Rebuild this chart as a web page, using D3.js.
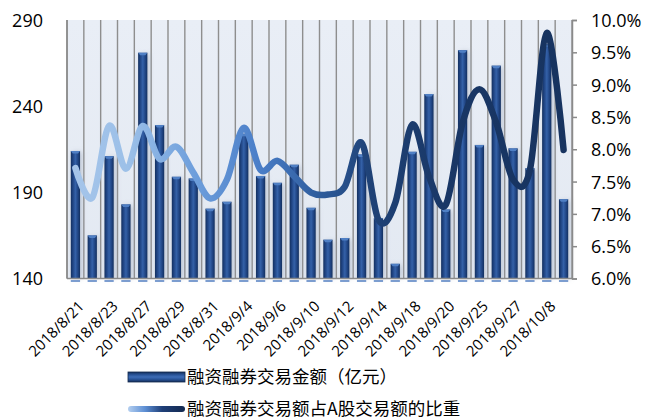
<!DOCTYPE html>
<html><head><meta charset="utf-8">
<script src="https://cdn.jsdelivr.net/npm/d3@7"></script>
<style>
body{margin:0;background:#fff;}
svg{display:block;}
</style></head>
<body>
<svg id="c" width="646" height="419"></svg>
<script>
const dates = ["2018/8/21","2018/8/22","2018/8/23","2018/8/24","2018/8/27","2018/8/28","2018/8/29","2018/8/30","2018/8/31","2018/9/3","2018/9/4","2018/9/5","2018/9/6","2018/9/7","2018/9/10","2018/9/11","2018/9/12","2018/9/13","2018/9/14","2018/9/17","2018/9/18","2018/9/19","2018/9/20","2018/9/21","2018/9/25","2018/9/26","2018/9/27","2018/9/28","2018/10/8","2018/10/9"];
const amount = [214,165,211,183,271,229,199,198,180.5,184.5,224,199.5,195.5,206,181,162.5,163.5,212,175,148.5,213.5,247,180,272.5,217.5,263.5,215.5,204,276,186];
const ratio = [7.71,7.25,8.36,7.70,8.36,7.85,8.04,7.64,7.24,7.53,8.33,7.68,7.82,7.58,7.33,7.30,7.42,8.10,6.91,7.17,8.38,7.58,7.14,8.41,8.93,8.41,7.53,7.68,9.80,7.99];
const leftTicks = [140,190,240,290];
const rightTicks = [6.0,6.5,7.0,7.5,8.0,8.5,9.0,9.5,10.0];
const shownLabels = ["2018/8/21","2018/8/23","2018/8/27","2018/8/29","2018/8/31","2018/9/4","2018/9/6","2018/9/10","2018/9/12","2018/9/14","2018/9/18","2018/9/20","2018/9/25","2018/9/27","2018/10/8"];
const legendNames = ["融资融券交易金额（亿元）","融资融券交易额占A股交易额的比重"];

const svg = d3.select("#c");
const L = 67, R = 572, T = 20, B = 278.5;
const x = d3.scaleBand().domain(dates).range([L, R]).paddingInner(0.45).paddingOuter(0.225);
const yL = d3.scaleLinear().domain([140, 290]).range([B, T]);
const yR = d3.scaleLinear().domain([6, 10]).range([B, T]);
const step = x.step();

const defs = svg.append("defs");
const bg = defs.append("linearGradient").attr("id","bg").attr("x1",0).attr("y1",0).attr("x2",0).attr("y2",1);
bg.append("stop").attr("offset",0).attr("stop-color","#e9eef6");
bg.append("stop").attr("offset",1).attr("stop-color","#e3e9f2");
const barG = defs.append("linearGradient").attr("id","barG").attr("x1",0).attr("y1",0).attr("x2",1).attr("y2",0);
[[0,"#14305e"],[0.2,"#1e4280"],[0.5,"#3461a8"],[0.8,"#1e4280"],[1,"#14305e"]].forEach(s=>barG.append("stop").attr("offset",s[0]).attr("stop-color",s[1]));
const lineG = defs.append("linearGradient").attr("id","lineG").attr("gradientUnits","userSpaceOnUse")
  .attr("x1",L).attr("y1",0).attr("x2",R).attr("y2",0);
[[0,"#a6c5ea"],[0.12,"#9cc0e8"],[0.25,"#6e9fdc"],[0.38,"#4a7ec8"],[0.5,"#2e5c9c"],[0.6,"#1f4277"],[0.75,"#193766"],[1,"#17335f"]].forEach(s=>lineG.append("stop").attr("offset",s[0]).attr("stop-color",s[1]));
const legLine = defs.append("linearGradient").attr("id","legLine").attr("x1",0).attr("y1",0).attr("x2",1).attr("y2",0);
[[0,"#b4cff0"],[0.3,"#5d8fd4"],[0.6,"#1f3f78"],[1,"#13294f"]].forEach(s=>legLine.append("stop").attr("offset",s[0]).attr("stop-color",s[1]));
const legBar = defs.append("linearGradient").attr("id","legBar").attr("x1",0).attr("y1",0).attr("x2",0).attr("y2",1);
[[0,"#14305e"],[0.3,"#2a569c"],[0.5,"#3d6cb5"],[0.7,"#2a569c"],[1,"#14305e"]].forEach(s=>legBar.append("stop").attr("offset",s[0]).attr("stop-color",s[1]));
const sh = defs.append("filter").attr("id","sh").attr("x","-50%").attr("y","-20%").attr("width","200%").attr("height","140%");
sh.append("feGaussianBlur").attr("stdDeviation",2.5);

// plot background
svg.append("rect").attr("x",L).attr("y",T).attr("width",R-L).attr("height",B-T).attr("fill","url(#bg)");

// vertical gridlines at band boundaries
const bounds = d3.range(dates.length + 1).map(i => L + i * step);
svg.append("g").selectAll("line").data(bounds).join("line")
  .attr("x1",d=>d).attr("x2",d=>d).attr("y1",T).attr("y2",B)
  .attr("stroke","#8e8e8e").attr("stroke-width",1.4);

// bar shadows
svg.append("g").attr("filter","url(#sh)").selectAll("rect").data(amount).join("rect")
  .attr("x",(d,i)=>x(dates[i])+2).attr("y",d=>yL(d)+1)
  .attr("width",x.bandwidth()).attr("height",d=>B-yL(d)-1)
  .attr("fill","#9aa6b8").attr("opacity",0.55);

// bars
const bars = svg.append("g");
bars.selectAll("rect.b").data(amount).join("rect").attr("class","b")
  .attr("x",(d,i)=>x(dates[i])).attr("y",d=>yL(d))
  .attr("width",x.bandwidth()).attr("height",d=>B-yL(d))
  .attr("fill","url(#barG)");
bars.selectAll("path.top").data(amount).join("path").attr("class","top")
  .attr("d",(d,i)=>{const x0=x(dates[i]),w=x.bandwidth(),y0=yL(d);return `M${x0},${y0}L${x0+w},${y0}L${x0+w-2},${y0+2.5}L${x0+2},${y0+2.5}Z`;})
  .attr("fill","#4f7fc4");
// reflection below axis
bars.selectAll("rect.r").data(amount).join("rect").attr("class","r")
  .attr("x",(d,i)=>x(dates[i])).attr("y",B+1.5).attr("width",x.bandwidth()).attr("height",2)
  .attr("fill","#5c86c4").attr("opacity",0.8);

// axes lines
svg.append("line").attr("x1",L).attr("x2",R).attr("y1",B).attr("y2",B).attr("stroke","#8a8a8a").attr("stroke-width",1.5);
svg.append("line").attr("x1",L).attr("x2",L).attr("y1",T).attr("y2",B).attr("stroke","#8a8a8a").attr("stroke-width",1.5);

// right axis
const rAxis = svg.append("g").attr("transform",`translate(${R},0)`)
  .call(d3.axisRight(yR).tickValues(rightTicks).tickSize(5).tickPadding(14).tickFormat(d=>d.toFixed(1)+"%"));
rAxis.select(".domain").attr("stroke","#8a8a8a").attr("stroke-width",1.5);
rAxis.selectAll(".tick line").attr("stroke","#8a8a8a").attr("stroke-width",1.5);
rAxis.selectAll("text").attr("font-family","'Open Sans', sans-serif").attr("font-size",18).attr("fill","#000").attr("dy","0.36em");

// left axis
const lAxis = svg.append("g").attr("transform",`translate(${L},0)`)
  .call(d3.axisLeft(yL).tickValues(leftTicks).tickSize(0).tickPadding(24));
lAxis.select(".domain").remove();
lAxis.selectAll("text").attr("font-family","'Open Sans', sans-serif").attr("font-size",18).attr("fill","#000").attr("dy","0.36em");

// x labels
svg.append("g").selectAll("text").data(shownLabels).join("text")
  .attr("transform",d=>`translate(${x(d)+x.bandwidth()/2+6},${B+25}) rotate(-45)`)
  .attr("text-anchor","end").attr("dy","0.35em")
  .attr("font-family","'Open Sans', sans-serif").attr("font-size",15).attr("fill","#000")
  .text(d=>d);

// line
const line = d3.line().x((d,i)=>x(dates[i])+x.bandwidth()/2).y(d=>yR(d)).curve(d3.curveCatmullRom.alpha(0));
svg.append("path").datum(ratio).attr("d",line).attr("fill","none")
  .attr("stroke","url(#lineG)").attr("stroke-width",6.5).attr("stroke-linecap","round").attr("stroke-linejoin","round");

// legend
const lg = svg.append("g");
lg.append("rect").attr("x",128).attr("y",372).attr("width",57).attr("height",10).attr("fill","url(#legBar)");
lg.append("rect").attr("x",128).attr("y",372).attr("width",57).attr("height",10).attr("fill","none").attr("stroke","#12284d").attr("stroke-width",0.8);
lg.append("rect").attr("x",128).attr("y",406).attr("width",57).attr("height",6).attr("rx",3).attr("fill","url(#legLine)");
lg.selectAll("text").data(legendNames).join("text")
  .attr("x",187).attr("y",(d,i)=>377+i*32).attr("dy","0.35em")
  .attr("font-family","'Noto Sans CJK SC', sans-serif").attr("font-size",17.5).attr("fill","#000")
  .text(d=>d);
</script>
</body></html>
